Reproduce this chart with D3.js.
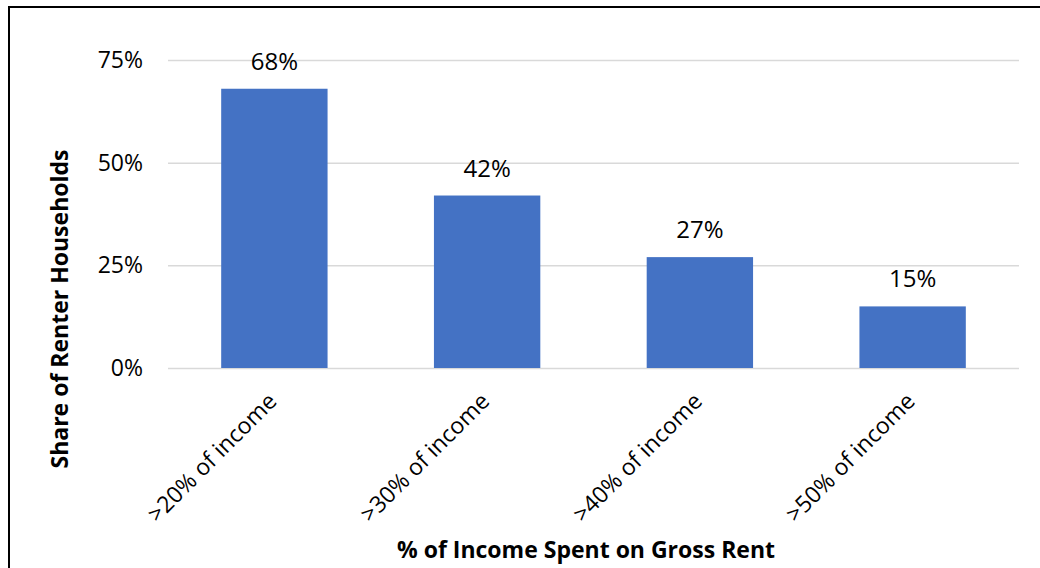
<!DOCTYPE html>
<html>
<head>
<meta charset="utf-8">
<script src="https://cdn.jsdelivr.net/npm/d3@7"></script>
<style>
  body { margin: 0; background: #fff; }
  svg text { font-family: "Open Sans", Lato, sans-serif; }
</style>
</head>
<body>
<div id="chart"></div>
<script>
// Data
const categories = [">20% of income", ">30% of income", ">40% of income", ">50% of income"];
const shares     = [68, 42, 27, 15];
const yTicks     = [0, 25, 50, 75];

const W = 1040, H = 568;
const margin = { top: 60, right: 21, bottom: 200, left: 168 };
const iW = W - margin.left - margin.right;
const iH = H - margin.top - margin.bottom;

const svg = d3.select("#chart").append("svg")
  .attr("width", W).attr("height", H);

// Outer frame (runs off the right and bottom edges)
svg.append("rect")
  .attr("x", 9).attr("y", 7)
  .attr("width", W + 20).attr("height", H + 20)
  .attr("fill", "none").attr("stroke", "#000").attr("stroke-width", 2);

const g = svg.append("g")
  .attr("transform", `translate(${margin.left},${margin.top})`);

// ── Scales ───────────────────────────────────────────────
const x = d3.scaleBand().domain(categories).range([0, iW])
  .paddingInner(0.5).paddingOuter(0.25);
const y = d3.scaleLinear().domain([0, 75]).range([iH, 0]);

// ── Grid lines ───────────────────────────────────────────
g.append("g")
  .call(d3.axisLeft(y).tickValues(yTicks).tickSize(-iW).tickFormat(""))
  .call(ax => ax.select(".domain").remove())
  .call(ax => ax.selectAll("line").attr("stroke", "#d9d9d9").attr("stroke-width", 1.5));

// ── Y axis labels ────────────────────────────────────────
g.append("g")
  .call(d3.axisLeft(y).tickValues(yTicks).tickSize(0).tickPadding(25).tickFormat(d => d + "%"))
  .call(ax => ax.select(".domain").remove())
  .selectAll("text")
    .attr("font-size", 23)
    .attr("fill", "#000")
    .attr("font-family", "\"Open Sans\", sans-serif");

// ── Bars ─────────────────────────────────────────────────
g.selectAll("rect.bar").data(categories).join("rect")
  .attr("class", "bar")
  .attr("x", d => x(d))
  .attr("y", (d, i) => y(shares[i]))
  .attr("width", x.bandwidth())
  .attr("height", (d, i) => iH - y(shares[i]))
  .attr("fill", "#4472C4");

// Value labels
g.selectAll("text.val").data(categories).join("text")
  .attr("class", "val")
  .attr("x", d => x(d) + x.bandwidth() / 2)
  .attr("y", (d, i) => y(shares[i]) - 19)
  .attr("text-anchor", "middle")
  .attr("font-size", 24)
  .attr("fill", "#000")
  .text((d, i) => shares[i] + "%");

// ── X axis labels (rotated) ──────────────────────────────
g.append("g")
  .attr("transform", `translate(0,${iH})`)
  .call(d3.axisBottom(x).tickSize(0).tickPadding(0))
  .call(ax => ax.select(".domain").remove())
  .selectAll("text")
    .attr("font-size", 23)
    .attr("fill", "#000")
    .attr("font-family", "\"Open Sans\", sans-serif")
    .attr("text-anchor", "end")
    .attr("transform", "translate(-2,29) rotate(-45)")
    .attr("dy", "0.35em");

// ── Axis titles ──────────────────────────────────────────
svg.append("text")
  .attr("transform", `translate(68,${margin.top + 249}) rotate(-90)`)
  .attr("text-anchor", "middle")
  .attr("font-size", 23)
  .attr("font-weight", "bold")
  .text("Share of Renter Households");

svg.append("text")
  .attr("x", 586).attr("y", 558)
  .attr("text-anchor", "middle")
  .attr("font-size", 23)
  .attr("font-weight", "bold")
  .text("% of Income Spent on Gross Rent");
</script>
</body>
</html>
